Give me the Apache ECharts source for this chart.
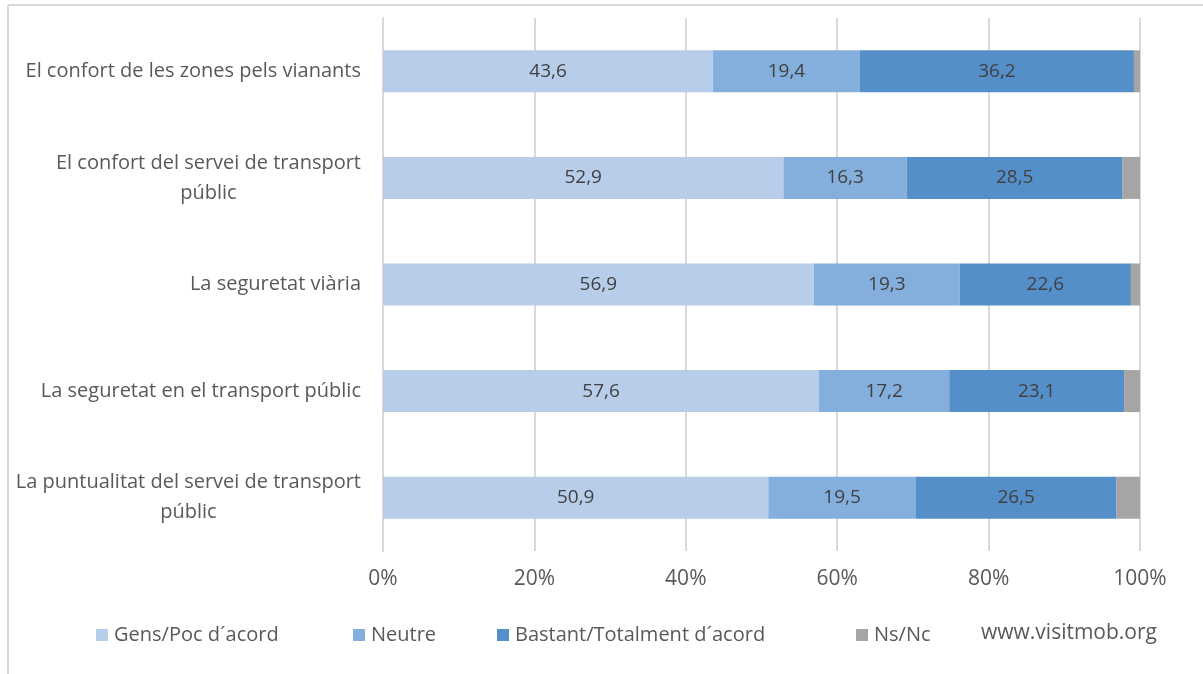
<!DOCTYPE html>
<html>
<head>
<meta charset="utf-8">
<script src="https://cdn.jsdelivr.net/npm/echarts@6/dist/echarts.min.js"></script>
<style>
  html, body { margin: 0; padding: 0; background: #ffffff; }
  #chart { width: 1203px; height: 674px; }
</style>
</head>
<body>
<div id="chart"></div>
<script>
// Survey answers per aspect of mobility (percent of respondents)
const categories = [
  'El confort de les zones pels vianants',
  'El confort del servei de transport públic',
  'La seguretat viària',
  'La seguretat en el transport públic',
  'La puntualitat del servei de transport públic'
];
const seriesNames = ['Gens/Poc d´acord', 'Neutre', 'Bastant/Totalment d´acord', 'Ns/Nc'];
const gensPoc   = [43.6, 52.9, 56.9, 57.6, 50.9];
const neutre    = [19.4, 16.3, 19.3, 17.2, 19.5];
const bastant   = [36.2, 28.5, 22.6, 23.1, 26.5];
const nsNc      = [0.8, 2.3, 1.2, 2.1, 3.1];
const xTicks    = [0, 20, 40, 60, 80, 100];
const sourceText = 'www.visitmob.org';

const colors = ['#b8cde9', '#84aedc', '#558fc9', '#a5a5a5'];
const FONT = '"Open Sans"';
const TEXT = '#595959';

// wrap long category names on word boundaries, each line centred in the block
function wrapLabel(s, maxChars) {
  const words = s.split(' ');
  const lines = [];
  let cur = '';
  words.forEach(w => {
    const next = cur ? cur + ' ' + w : w;
    if (next.length > maxChars && cur) { lines.push(cur); cur = w; }
    else cur = next;
  });
  if (cur) lines.push(cur);
  return lines.map(l => '{c|' + l + '}').join('\n');
}

const valueSeries = [gensPoc, neutre, bastant, nsNc];
// left edge of each legend entry along the bottom row
const legendLeft = [96, 353, 497, 856];

const chart = echarts.init(document.getElementById('chart'), null, { renderer: 'canvas' });
chart.setOption({
  animation: false,
  color: colors,
  textStyle: { fontFamily: FONT },
  grid: { left: 383, right: 63, top: 18, bottom: 123, containLabel: false },
  xAxis: {
    type: 'value',
    min: xTicks[0],
    max: xTicks[xTicks.length - 1],
    interval: 20,
    axisLine: { show: false },
    axisTick: { show: false },
    splitLine: { lineStyle: { color: '#d9d9d9', width: 2 } },
    axisLabel: {
      margin: 18,
      color: TEXT,
      fontFamily: FONT,
      fontSize: 21,
      formatter: v => v + '%'
    }
  },
  yAxis: {
    type: 'category',
    data: categories,
    inverse: true,
    axisLine: { show: true, lineStyle: { color: '#d9d9d9', width: 2 } },
    axisTick: { show: false },
    axisLabel: {
      margin: 22,
      color: TEXT,
      fontFamily: FONT,
      fontSize: 20,
      lineHeight: 30,
      formatter: v => wrapLabel(v, 38),
      rich: { c: { align: 'center', color: TEXT, fontFamily: FONT, fontSize: 20, lineHeight: 30 } }
    }
  },
  legend: seriesNames.map((name, i) => ({
    data: [name],
    left: legendLeft[i],
    top: 625,
    padding: 0,
    itemWidth: 12,
    itemHeight: 12,
    itemGap: 0,
    icon: 'rect',
    textStyle: { color: TEXT, fontFamily: FONT, fontSize: 20, padding: [0, 0, 0, 1] }
  })),
  graphic: [
    { type: 'line', shape: { x1: 8, y1: 5, x2: 1203, y2: 5 }, style: { stroke: '#d9d9d9', lineWidth: 2 } },
    { type: 'line', shape: { x1: 8, y1: 5, x2: 8, y2: 674 }, style: { stroke: '#d9d9d9', lineWidth: 2 } },
    { type: 'text', left: 981, top: 623, style: { text: sourceText, fill: TEXT, font: '21px ' + FONT } }
  ],
  series: seriesNames.map((name, i) => ({
    name: name,
    type: 'bar',
    stack: 'total',
    barWidth: 42,
    data: valueSeries[i],
    itemStyle: { color: colors[i] },
    label: {
      show: i < 3,
      position: 'inside',
      color: '#404040',
      fontFamily: FONT,
      fontSize: 19,
      formatter: p => p.value.toFixed(1).replace('.', ',')
    }
  }))
});
</script>
</body>
</html>
